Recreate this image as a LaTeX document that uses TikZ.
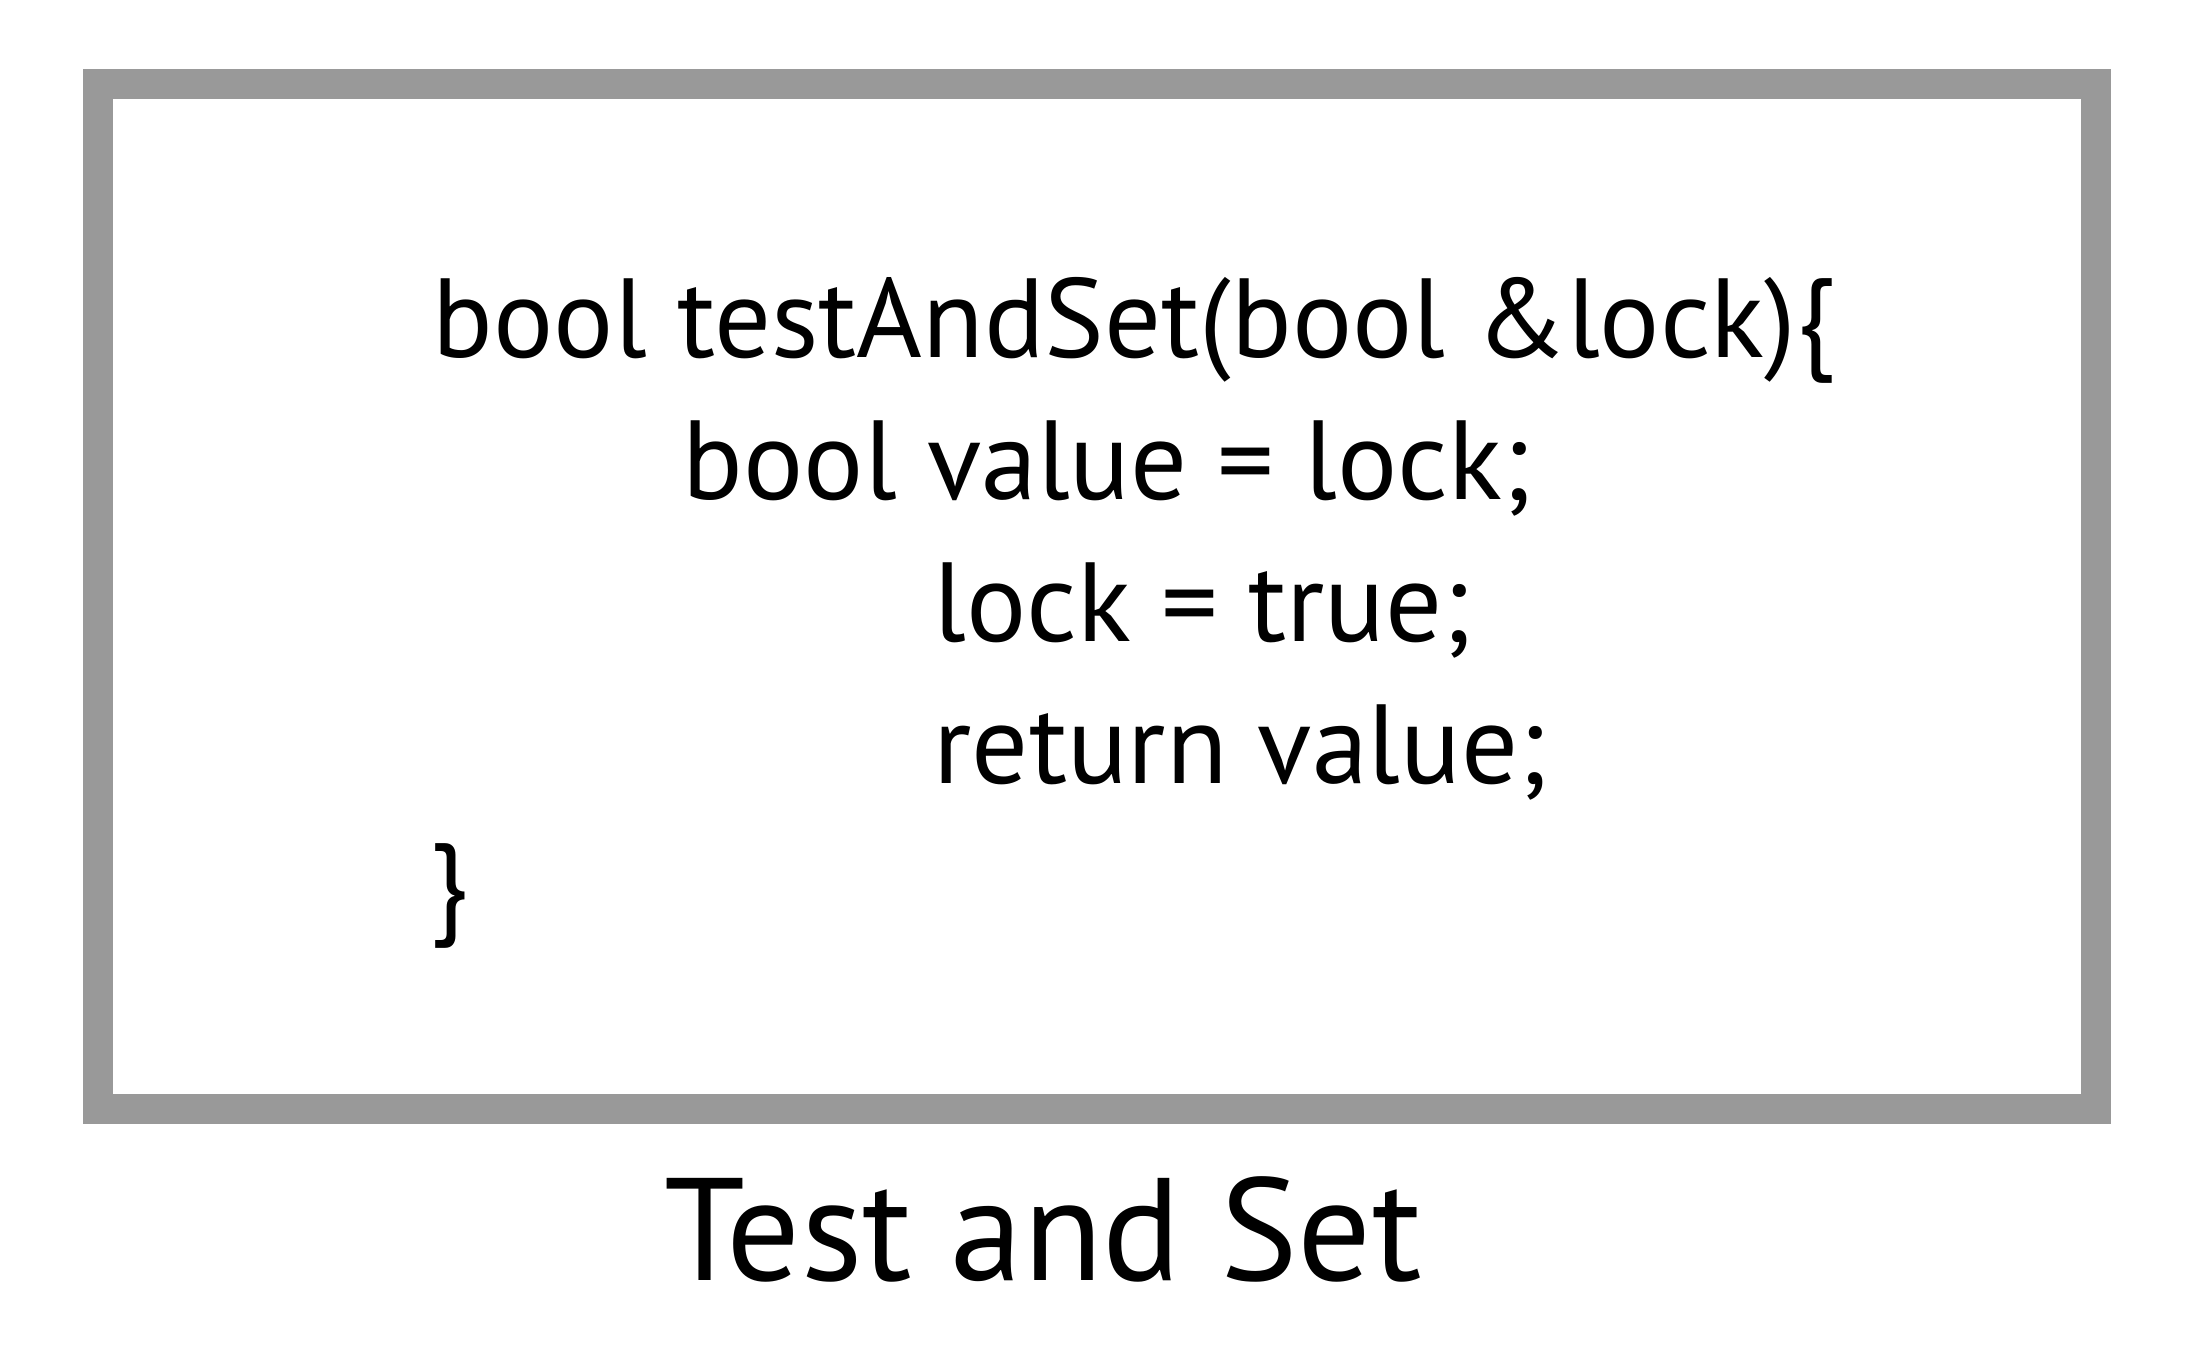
\documentclass[tikz,border=0pt]{standalone}
\usepackage{fontspec}
\setmainfont{PT Sans}
\definecolor{framegray}{HTML}{999999}

\begin{document}
\begin{tikzpicture}[x=0.01cm,y=-0.01cm,
    frame/.style={draw=framegray,line width=0.3cm,minimum width=19.96cm,minimum height=10.25cm,inner sep=0pt},
    code/.style={anchor=base west,inner sep=0pt,font=\fontsize{32}{38}\selectfont},
    caption/.style={anchor=base,inner sep=0pt,font=\fontsize{41.5}{50}\selectfont}]
    \useasboundingbox (0,0) rectangle (2212,1348);
    \node[frame] (box) at (1097,596.5) {};
    \node[code] (l1) at (432,357) {bool testAndSet(bool \&lock)\{};
    \node[code] (l2) at (682,499) {bool value = lock;};
    \node[code] (l3) at (933,641) {lock = true;};
    \node[code] (l4) at (933,783) {return value;};
    \node[code] (l5) at (429,922) {\}};
    \node[caption] (title) at (1043,1280) {Test and Set};
  \end{tikzpicture}
\end{document}
